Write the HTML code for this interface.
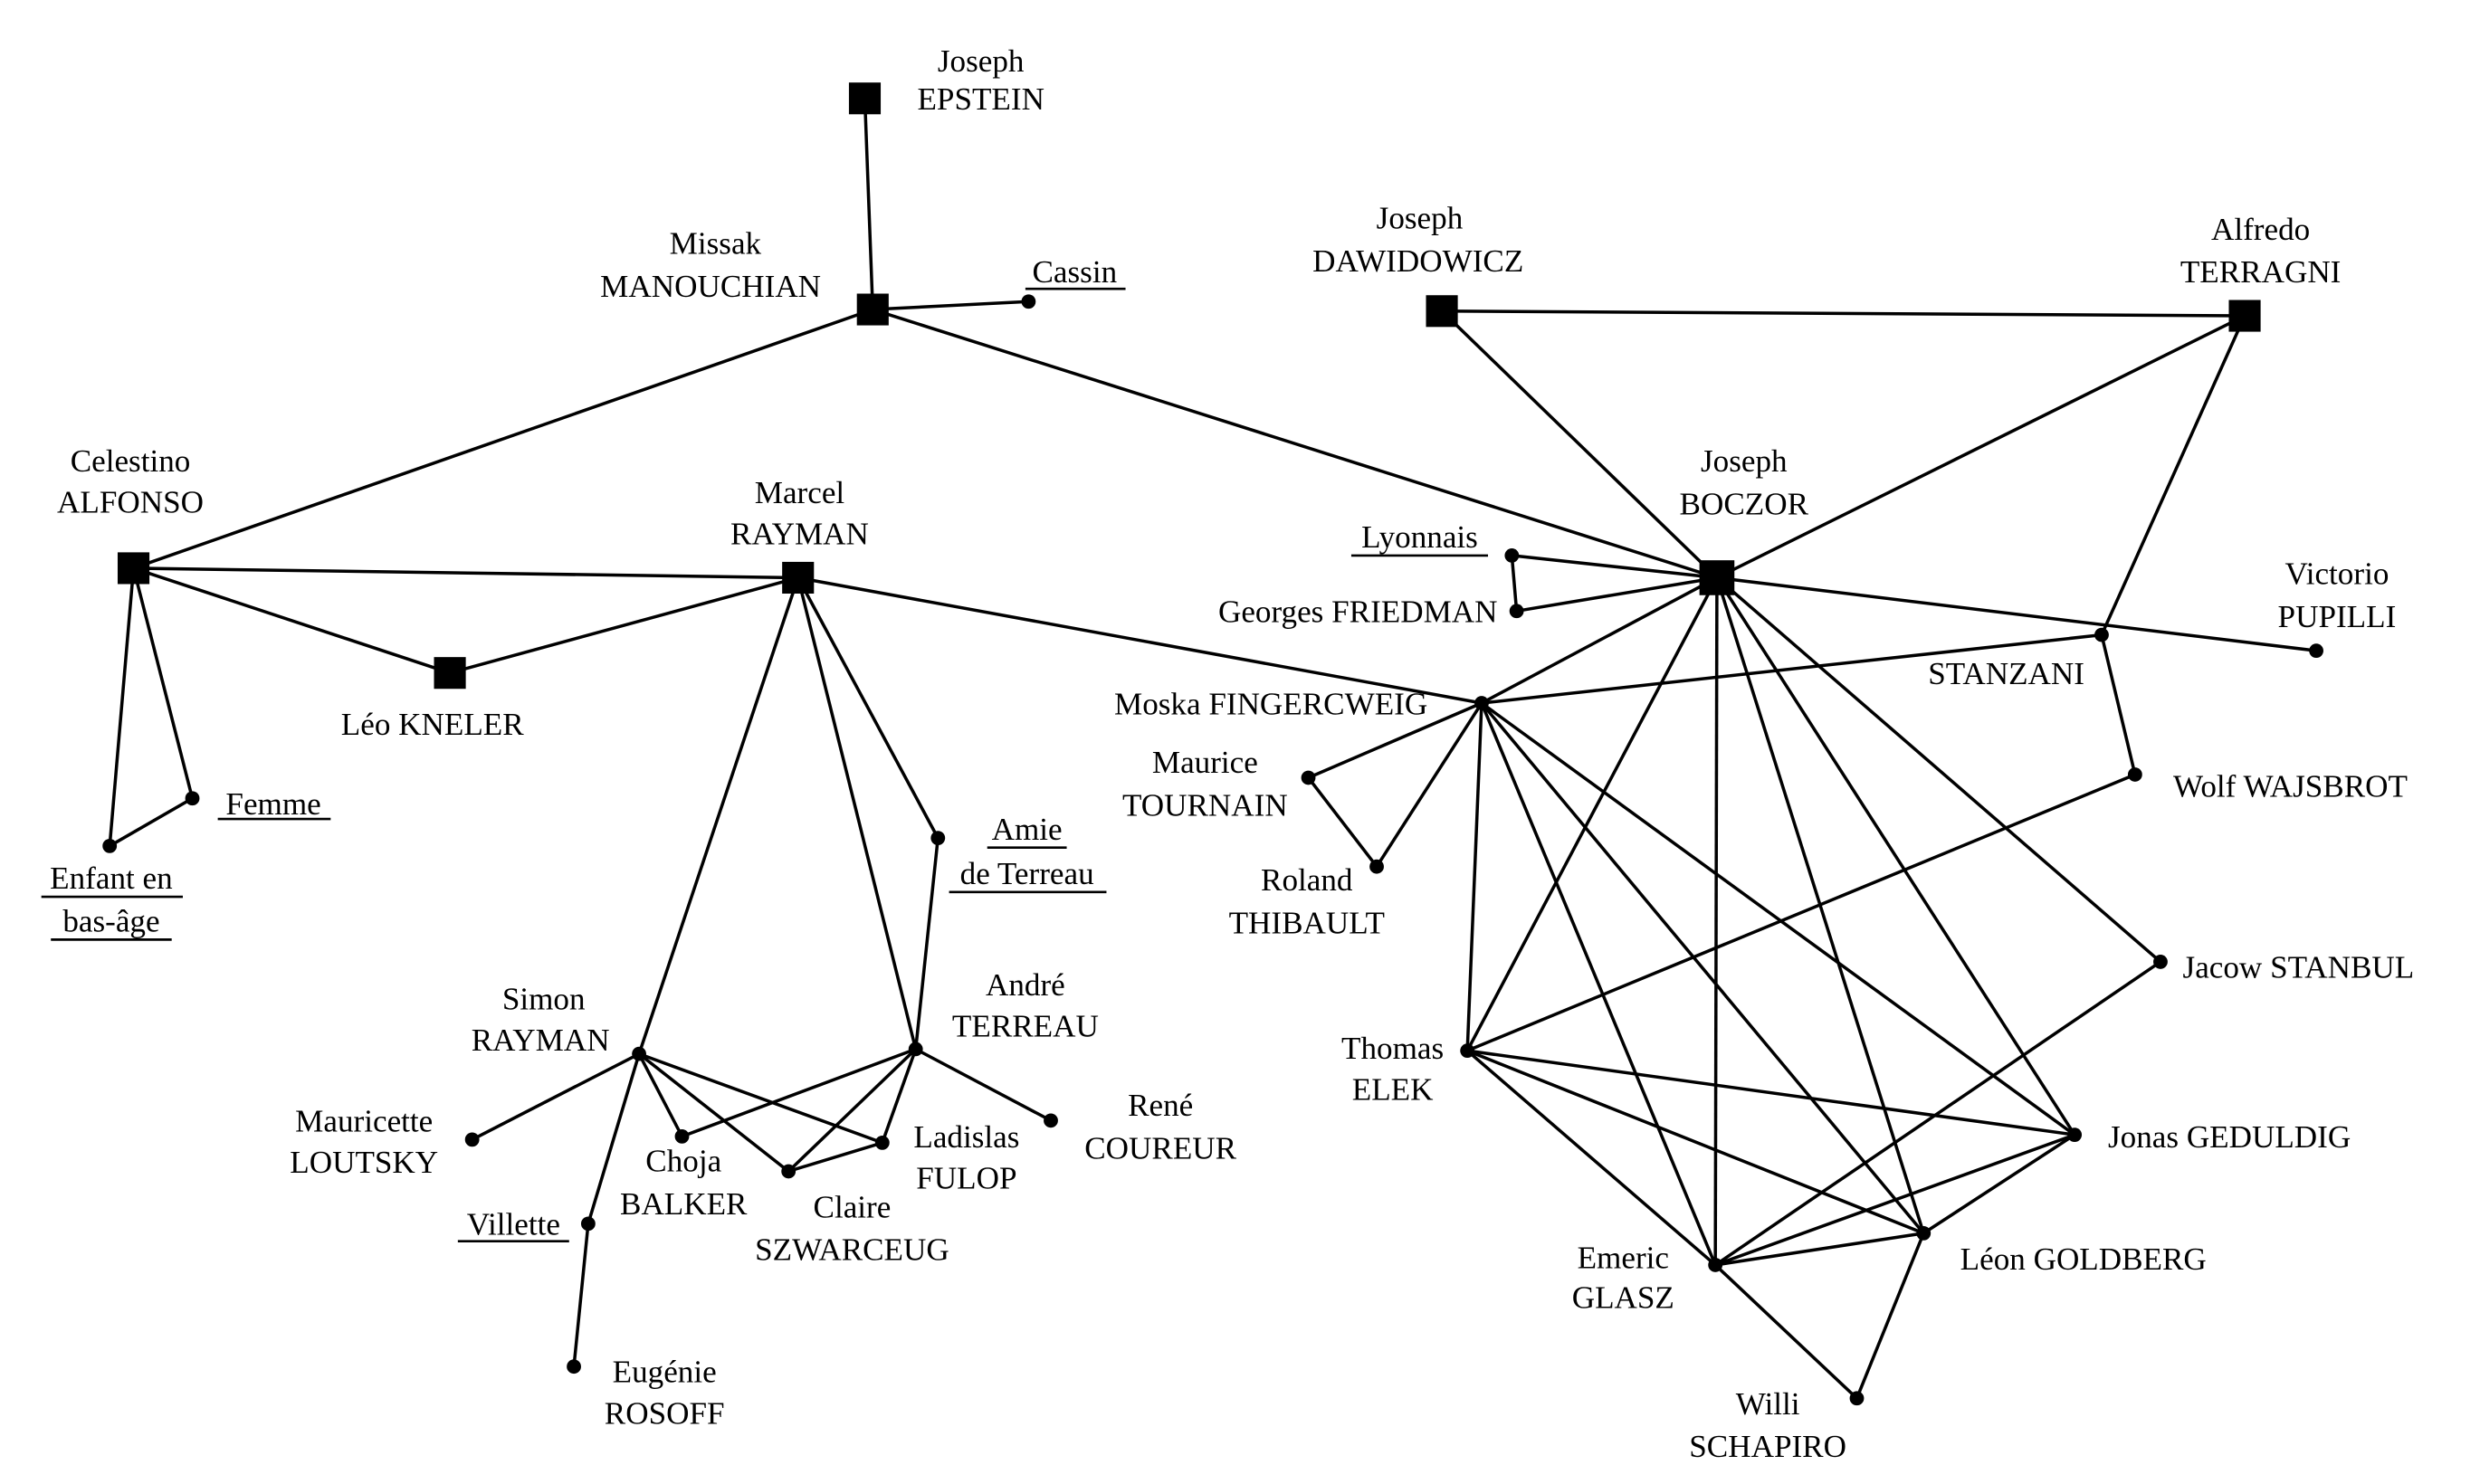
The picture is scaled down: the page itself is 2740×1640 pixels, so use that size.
<!DOCTYPE html>
<html><head><meta charset="utf-8"><style>
html,body{margin:0;padding:0;background:#fff;}
svg{display:block;}
text{font-family:"Liberation Serif",serif;font-size:20px;fill:#000;}
</style></head><body>
<svg width="2740" height="1640" viewBox="0 0 1560 935" preserveAspectRatio="none" xmlns="http://www.w3.org/2000/svg">
<g stroke="#000" stroke-width="2" fill="none">
<line x1="544" y1="62" x2="549" y2="195"/>
<line x1="549" y1="195" x2="647" y2="190"/>
<line x1="549" y1="195" x2="84" y2="358"/>
<line x1="549" y1="195" x2="1080" y2="364"/>
<line x1="84" y1="358" x2="502" y2="364"/>
<line x1="84" y1="358" x2="283" y2="424"/>
<line x1="283" y1="424" x2="502" y2="364"/>
<line x1="84" y1="358" x2="69" y2="533"/>
<line x1="84" y1="358" x2="121" y2="503"/>
<line x1="69" y1="533" x2="121" y2="503"/>
<line x1="502" y1="364" x2="932" y2="443"/>
<line x1="502" y1="364" x2="402" y2="664"/>
<line x1="502" y1="364" x2="576" y2="661"/>
<line x1="502" y1="364" x2="590" y2="528"/>
<line x1="590" y1="528" x2="576" y2="661"/>
<line x1="907" y1="196" x2="1412" y2="199"/>
<line x1="907" y1="196" x2="1080" y2="364"/>
<line x1="1412" y1="199" x2="1080" y2="364"/>
<line x1="1412" y1="199" x2="1322" y2="400"/>
<line x1="1322" y1="400" x2="1343" y2="488"/>
<line x1="1080" y1="364" x2="951" y2="350"/>
<line x1="951" y1="350" x2="954" y2="385"/>
<line x1="954" y1="385" x2="1080" y2="364"/>
<line x1="1080" y1="364" x2="1457" y2="410"/>
<line x1="1080" y1="364" x2="932" y2="443"/>
<line x1="932" y1="443" x2="1322" y2="400"/>
<line x1="932" y1="443" x2="823" y2="490"/>
<line x1="823" y1="490" x2="866" y2="546"/>
<line x1="932" y1="443" x2="866" y2="546"/>
<line x1="932" y1="443" x2="923" y2="662"/>
<line x1="932" y1="443" x2="1079" y2="797"/>
<line x1="932" y1="443" x2="1210" y2="777"/>
<line x1="932" y1="443" x2="1305" y2="715"/>
<line x1="1080" y1="364" x2="923" y2="662"/>
<line x1="1080" y1="364" x2="1079" y2="797"/>
<line x1="1080" y1="364" x2="1210" y2="777"/>
<line x1="1080" y1="364" x2="1305" y2="715"/>
<line x1="1080" y1="364" x2="1359" y2="606"/>
<line x1="923" y1="662" x2="1343" y2="488"/>
<line x1="923" y1="662" x2="1305" y2="715"/>
<line x1="923" y1="662" x2="1210" y2="777"/>
<line x1="923" y1="662" x2="1079" y2="797"/>
<line x1="1359" y1="606" x2="1079" y2="797"/>
<line x1="1305" y1="715" x2="1079" y2="797"/>
<line x1="1210" y1="777" x2="1079" y2="797"/>
<line x1="1305" y1="715" x2="1210" y2="777"/>
<line x1="1079" y1="797" x2="1168" y2="881"/>
<line x1="1210" y1="777" x2="1168" y2="881"/>
<line x1="402" y1="664" x2="297" y2="718"/>
<line x1="402" y1="664" x2="429" y2="716"/>
<line x1="402" y1="664" x2="496" y2="738"/>
<line x1="402" y1="664" x2="555" y2="720"/>
<polyline points="402,664 370,771 361,861"/>
<line x1="576" y1="661" x2="429" y2="716"/>
<line x1="576" y1="661" x2="496" y2="738"/>
<line x1="576" y1="661" x2="555" y2="720"/>
<line x1="576" y1="661" x2="661" y2="706"/>
<line x1="496" y1="738" x2="555" y2="720"/>
</g>
<g fill="#000">
<rect x="534" y="52" width="20" height="20"/>
<rect x="539" y="185" width="20" height="20"/>
<rect x="74" y="348" width="20" height="20"/>
<rect x="492" y="354" width="20" height="20"/>
<rect x="273" y="414" width="20" height="20"/>
<rect x="897" y="186" width="20" height="20"/>
<rect x="1402" y="189" width="20" height="20"/>
<rect x="1069" y="353" width="22" height="22"/>
<circle cx="647" cy="190" r="4.5"/><circle cx="121" cy="503" r="4.5"/><circle cx="69" cy="533" r="4.5"/>
<circle cx="951" cy="350" r="4.5"/><circle cx="954" cy="385" r="4.5"/><circle cx="1322" cy="400" r="4.5"/>
<circle cx="1457" cy="410" r="4.5"/><circle cx="932" cy="443" r="4.5"/><circle cx="823" cy="490" r="4.5"/>
<circle cx="866" cy="546" r="4.5"/><circle cx="1343" cy="488" r="4.5"/><circle cx="590" cy="528" r="4.5"/>
<circle cx="1359" cy="606" r="4.5"/><circle cx="576" cy="661" r="4.5"/><circle cx="402" cy="664" r="4.5"/>
<circle cx="923" cy="662" r="4.5"/><circle cx="297" cy="718" r="4.5"/><circle cx="429" cy="716" r="4.5"/>
<circle cx="555" cy="720" r="4.5"/><circle cx="496" cy="738" r="4.5"/><circle cx="661" cy="706" r="4.5"/>
<circle cx="1305" cy="715" r="4.5"/><circle cx="370" cy="771" r="4.5"/><circle cx="1210" cy="777" r="4.5"/>
<circle cx="1079" cy="797" r="4.5"/><circle cx="361" cy="861" r="4.5"/><circle cx="1168" cy="881" r="4.5"/>
</g>
<g text-anchor="middle">
<text x="617" y="45">Joseph</text><text x="617" y="69">EPSTEIN</text>
<text x="450" y="160">Missak</text><text x="447" y="187">MANOUCHIAN</text>
<text x="82" y="297">Celestino</text><text x="82" y="323">ALFONSO</text>
<text x="503" y="317">Marcel</text><text x="503" y="343">RAYMAN</text>
<text x="272" y="463">Léo KNELER</text>
<text x="70" y="560">Enfant en</text><text x="70" y="587">bas-âge</text>
<text x="893" y="144">Joseph</text><text x="892" y="171">DAWIDOWICZ</text>
<text x="1422" y="151">Alfredo</text><text x="1422" y="178">TERRAGNI</text>
<text x="1097" y="297">Joseph</text><text x="1097" y="324">BOCZOR</text>
<text x="1262" y="431">STANZANI</text>
<text x="1470" y="368">Victorio</text><text x="1470" y="395">PUPILLI</text>
<text x="758" y="487">Maurice</text><text x="758" y="514">TOURNAIN</text>
<text x="822" y="561">Roland</text><text x="822" y="588">THIBAULT</text>
<text x="646" y="529">Amie</text><text x="646" y="557">de Terreau</text>
<text x="645" y="627">André</text><text x="645" y="653">TERREAU</text>
<text x="342" y="636">Simon</text><text x="340" y="662">RAYMAN</text>
<text x="876" y="667">Thomas</text><text x="876" y="693">ELEK</text>
<text x="229" y="713">Mauricette</text><text x="229" y="739">LOUTSKY</text>
<text x="430" y="738">Choja</text><text x="430" y="765">BALKER</text>
<text x="608" y="723">Ladislas</text><text x="608" y="749">FULOP</text>
<text x="536" y="767">Claire</text><text x="536" y="794">SZWARCEUG</text>
<text x="730" y="703">René</text><text x="730" y="730">COUREUR</text>
<text x="1021" y="799">Emeric</text><text x="1021" y="824">GLASZ</text>
<text x="418" y="871">Eugénie</text><text x="418" y="897">ROSOFF</text>
<text x="1112" y="891">Willi</text><text x="1112" y="918">SCHAPIRO</text>
<text x="676" y="178">Cassin</text>
<text x="172" y="513">Femme</text>
<text x="893" y="345">Lyonnais</text>
<text x="323" y="778">Villette</text>
</g>
<g text-anchor="end">
<text x="942" y="392">Georges FRIEDMAN</text>
<text x="898" y="450">Moska FINGERCWEIG</text>
</g>
<g>
<text x="1367" y="502">Wolf WAJSBROT</text>
<text x="1373" y="616">Jacow STANBUL</text>
<text x="1326" y="723">Jonas GEDULDIG</text>
<text x="1233" y="800">Léon GOLDBERG</text>
</g>
<g stroke="#000" stroke-width="1.5">
<line x1="645" y1="182" x2="708" y2="182"/>
<line x1="137" y1="516" x2="208" y2="516"/>
<line x1="26" y1="565" x2="115" y2="565"/>
<line x1="32" y1="592" x2="108" y2="592"/>
<line x1="850" y1="350" x2="936" y2="350"/>
<line x1="288" y1="782" x2="358" y2="782"/>
<line x1="621" y1="534" x2="671" y2="534"/>
<line x1="597" y1="562" x2="696" y2="562"/>
</g>
</svg>
</body></html>
